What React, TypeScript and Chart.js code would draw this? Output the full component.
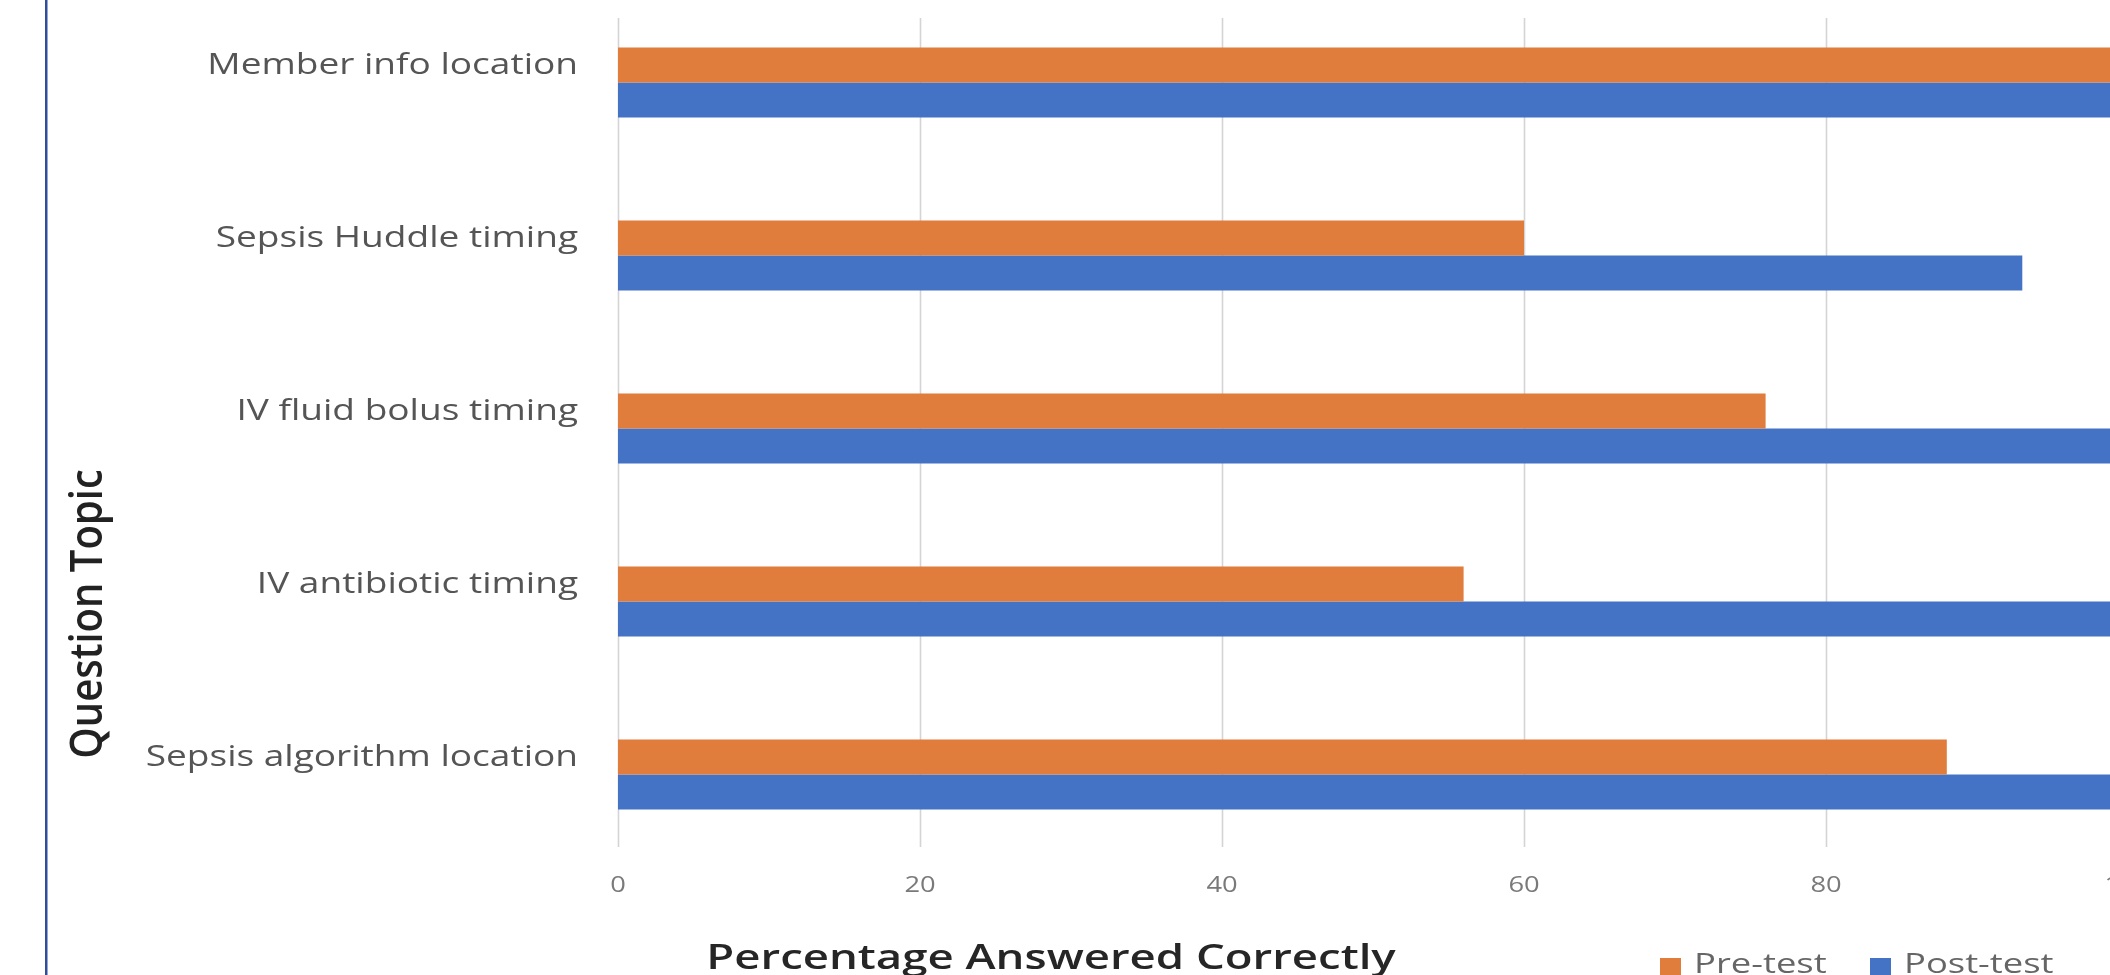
import React, { useEffect, useRef } from "react";
import { Chart, registerables } from "chart.js";

Chart.register(...registerables);

// ---- data ----
const categories = [
  "Member info location",
  "Sepsis Huddle timing",
  "IV fluid bolus timing",
  "IV antibiotic timing",
  "Sepsis algorithm location",
];
const preTest = [100, 60, 76, 56, 88];
const postTest = [100, 93, 100, 100, 100];
const xTickValues = [0, 20, 40, 60, 80, 100];
const seriesNames = ["Pre-test", "Post-test"];
const xAxisTitle = "Percentage Answered Correctly";
const yAxisTitle = "Question Topic";

// ---- styles ----
const ORANGE = "#E07C3C";
const BLUE = "#4472C4";
const SX = 1.3; // horizontal stretch of the original picture's text
const FONT = "'Open Sans', 'Noto Sans', sans-serif";
const W = 2140;
const H = 994;

function drawText(
  ctx: CanvasRenderingContext2D,
  text: string,
  x: number,
  y: number,
  font: string,
  color: string,
  align: CanvasTextAlign,
  baseline: CanvasTextBaseline,
  rotate = false,
  sx = SX
) {
  ctx.save();
  ctx.translate(x, y);
  if (rotate) {
    ctx.scale(sx, 1);
    ctx.rotate(-Math.PI / 2);
  } else {
    ctx.scale(sx, 1);
  }
  ctx.font = font;
  ctx.fillStyle = color;
  ctx.textAlign = align;
  ctx.textBaseline = baseline;
  ctx.fillText(text, 0, 0);
  ctx.restore();
}

const decorPlugin = {
  id: "decor",
  beforeDatasetsDraw(chart: any) {
    const { ctx, chartArea, scales } = chart;
    const xs = scales.x;
    ctx.save();
    ctx.strokeStyle = "#d4d4d4";
    ctx.lineWidth = 1.6;
    for (const v of xTickValues) {
      const px = Math.round(xs.getPixelForValue(v)) + 0.5;
      ctx.beginPath();
      ctx.moveTo(px, chartArea.top + 22);
      ctx.lineTo(px, chartArea.bottom - 14);
      ctx.stroke();
    }
    ctx.restore();
  },
  afterDraw(chart: any) {
    const { ctx, chartArea, scales } = chart;
    const xs = scales.x;
    const ys = scales.y;

    // left frame line
    ctx.save();
    ctx.fillStyle = "#2f4f9c";
    ctx.fillRect(45, 0, 2.5, H);
    ctx.restore();

    // category labels
    categories.forEach((c, i) => {
      const py = ys.getPixelForValue(i);
      drawText(ctx, c, chartArea.left - 40, py - 9, `28.5px ${FONT}`, "#555555", "right", "alphabetic");
    });

    // x tick labels
    xTickValues.forEach((v) => {
      const px = xs.getPixelForValue(v);
      drawText(ctx, String(v), px, chartArea.bottom + 31, `21px ${FONT}`, "#7a7a7a", "center", "alphabetic");
    });

    // axis titles
    drawText(ctx, xAxisTitle, 1051, 973, `600 35px ${FONT}`, "#262626", "center", "alphabetic");
    drawText(ctx, yAxisTitle, 89, 618, `600 40px ${FONT}`, "#222222", "center", "middle", true, 1.12);

    // legend
    const colors = [ORANGE, BLUE];
    const legendX = [1660, 1870];
    seriesNames.forEach((name, i) => {
      ctx.save();
      ctx.fillStyle = colors[i];
      ctx.fillRect(legendX[i], 962, 21, 21);
      ctx.restore();
      drawText(ctx, name, legendX[i] + 34, 977, `28px ${FONT}`, "#666666", "left", "alphabetic");
    });
  },
};

export default function App() {
  const ref = useRef<HTMLCanvasElement | null>(null);

  useEffect(() => {
    document.body.style.margin = "0";
    document.body.style.overflow = "hidden";
    document.body.style.background = "#ffffff";
    const canvas = ref.current;
    if (!canvas) return;
    const chart = new Chart(canvas, {
      type: "bar",
      data: {
        labels: categories,
        datasets: [
          {
            label: seriesNames[0],
            data: preTest,
            backgroundColor: ORANGE,
            borderWidth: 0,
            categoryPercentage: 0.405,
            barPercentage: 1,
          },
          {
            label: seriesNames[1],
            data: postTest,
            backgroundColor: BLUE,
            borderWidth: 0,
            categoryPercentage: 0.405,
            barPercentage: 1,
          },
        ],
      },
      options: {
        indexAxis: "y",
        responsive: false,
        animation: false,
        devicePixelRatio: 1,
        layout: { padding: { left: 618, right: W - 2128, top: 0, bottom: H - 865 } },
        plugins: {
          legend: { display: false },
          tooltip: { enabled: false },
          title: { display: false },
        },
        scales: {
          x: { type: "linear", min: 0, max: 100, display: false, ticks: { stepSize: 20 } },
          y: { type: "category", display: false },
        },
      },
      plugins: [decorPlugin],
    });
    return () => chart.destroy();
  }, []);

  return (
    <canvas
      ref={ref}
      width={W}
      height={H}
      style={{ position: "absolute", left: 0, top: -4, width: W, height: H, display: "block" }}
    />
  );
}
